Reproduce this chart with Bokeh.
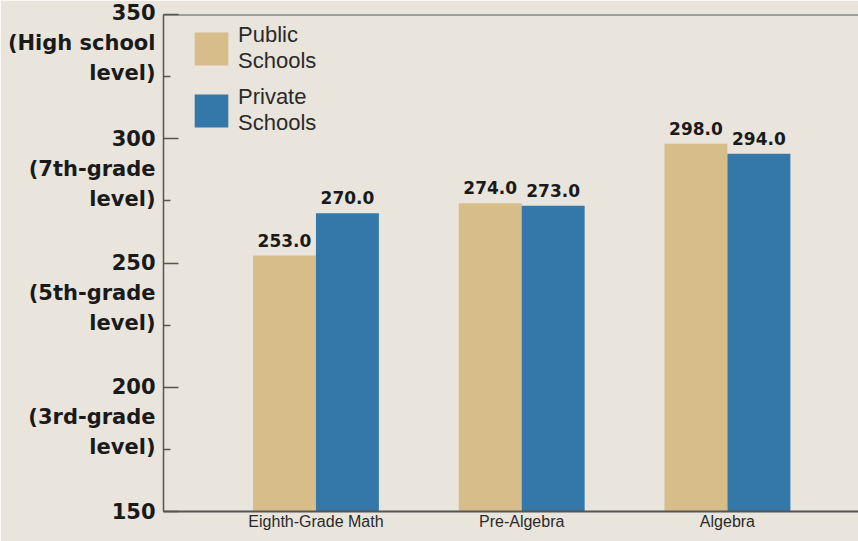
from bokeh.plotting import figure
from bokeh.models import (Range1d, FixedTicker, Span, Legend, LegendItem,
                          ColumnDataSource)
from bokeh.transform import dodge
from bokeh.core.properties import value
from bokeh.embed import file_html
from bokeh.resources import INLINE

# ---- data ----
categories = ["Eighth-Grade Math", "Pre-Algebra", "Algebra"]
public_scores = [253.0, 274.0, 298.0]
private_scores = [270.0, 273.0, 294.0]
series_names = ["Public\nSchools", "Private\nSchools"]
y_ticks = [150, 200, 250, 300, 350]
y_minor_ticks = [175, 225, 275, 325]
y_tick_numbers = ["150", "200", "250", "300", "350"]
y_tick_notes = ["", "(3rd-grade\nlevel)", "(5th-grade\nlevel)", "(7th-grade\nlevel)", "(High school\nlevel)"]

# ---- style ----
BG = "#e9e5dc"
TAN = "#d6bd89"
BLUE = "#3378a9"
AXIS = "#555555"
DARK = "#1a1a1a"

W, H = 858, 541
LEFT, TOP, BOTTOM = 163, 14, 30

idx = list(range(len(categories)))
src = ColumnDataSource(dict(
    x=idx, cat=categories, pub=public_scores, pri=private_scores,
    pub_txt=[f"{v:.1f}" for v in public_scores],
    pri_txt=[f"{v:.1f}" for v in private_scores],
))

x_start, x_end = -0.741, 2.637
p = figure(width=W, height=H, output_backend="svg", toolbar_location=None,
           x_range=Range1d(x_start, x_end), y_range=Range1d(y_ticks[0], y_ticks[-1]),
           min_border_left=LEFT, min_border_top=TOP, min_border_right=0,
           min_border_bottom=BOTTOM)
p.background_fill_color = BG
p.border_fill_color = BG
p.outline_line_color = None
p.grid.grid_line_color = None

bw = 0.306
r_pub = p.vbar(x=dodge("x", -bw / 2), top="pub", bottom=y_ticks[0], width=bw,
               source=src, fill_color=TAN, line_color=None)
r_pri = p.vbar(x=dodge("x", bw / 2), top="pri", bottom=y_ticks[0], width=bw,
               source=src, fill_color=BLUE, line_color=None)

for col, off in (("pub_txt", -bw / 2), ("pri_txt", bw / 2)):
    p.text(x=dodge("x", off), y=col.replace("_txt", ""), text=col, source=src,
           text_align="center", text_baseline="bottom", y_offset=-9,
           text_font=value("DejaVu Sans"), text_font_style="bold",
           text_font_size="17px", text_color=DARK)

# y axis: number on the tick, the level note on the two lines below
def tick_label(num, note, pad=True):
    if not note:
        return num
    n = len(note.split("\n"))
    return ("\n" * n if pad else "") + num + "\n" + note

ya = p.yaxis[0]
ya.ticker = FixedTicker(ticks=y_ticks, minor_ticks=y_minor_ticks)
ya.major_label_overrides = {
    t: tick_label(s, n, pad=(t != y_ticks[-1]))
    for t, s, n in zip(y_ticks, y_tick_numbers, y_tick_notes)
}
ya.axis_line_color = AXIS
ya.axis_line_width = 1.5
ya.major_tick_line_color = AXIS
ya.major_tick_line_width = 1.5
ya.major_tick_in = 15
ya.major_tick_out = 0
ya.minor_tick_line_color = AXIS
ya.minor_tick_line_width = 1.5
ya.minor_tick_in = 7
ya.minor_tick_out = 0
ya.major_label_standoff = 8
ya.major_label_text_font = "DejaVu Sans"
ya.major_label_text_font_style = "bold"
ya.major_label_text_font_size = "21px"
ya.major_label_text_line_height = 1.25
ya.major_label_text_color = DARK

# x axis
xa = p.xaxis[0]
xa.ticker = FixedTicker(ticks=idx)
xa.major_label_overrides = {i: c for i, c in zip(idx, categories)}
xa.axis_line_color = AXIS
xa.axis_line_width = 2
xa.major_tick_line_color = None
xa.minor_tick_line_color = None
xa.major_label_standoff = -5
xa.major_label_text_font = "Liberation Sans"
xa.major_label_text_font_size = "16px"
xa.major_label_text_font_style = "normal"
xa.major_label_text_color = "#2a2a2a"

# top border line
p.add_layout(Span(location=y_ticks[-1], dimension="width", line_color=AXIS, line_width=2))

legend = Legend(items=[LegendItem(label=series_names[0], renderers=[r_pub]),
                       LegendItem(label=series_names[1], renderers=[r_pri])],
                location=(27, 375), margin=0, padding=0, spacing=10,
                glyph_width=42, glyph_height=41, label_standoff=6,
                label_text_font="Liberation Sans", label_text_font_size="22px",
                label_text_color="#2a2a2a", label_text_line_height=0.9,
                background_fill_alpha=0, border_line_color=None)
p.add_layout(legend, "center")

open("out.html", "w").write(file_html(p, INLINE))
